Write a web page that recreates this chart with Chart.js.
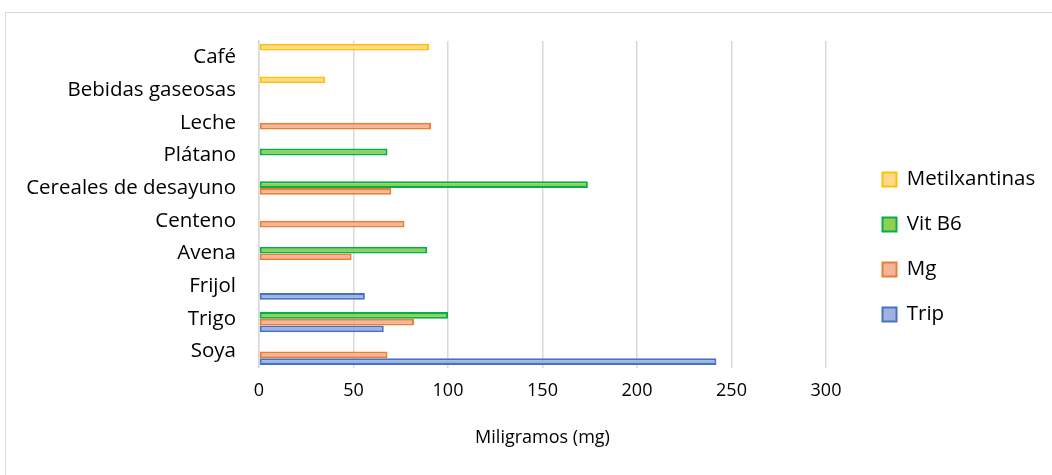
<!DOCTYPE html>
<html>
<head>
<meta charset="utf-8">
<script src="https://cdn.jsdelivr.net/npm/chart.js@4"></script>
<style>
  html, body { margin: 0; padding: 0; background: #fff; overflow: hidden; }
  #frame { position: absolute; left: 5px; top: 12px; width: 1070px; height: 490px; border: 1.5px solid #d9d9d9; box-sizing: border-box; }
  #wrap { position: absolute; left: 0; top: 0; width: 1052px; height: 475px; }
</style>
</head>
<body>
<div id="frame"></div>
<div id="wrap"><canvas id="myChart" width="1052" height="475"></canvas></div>
<script>
const labels = [
    'Café',
    'Bebidas gaseosas',
    'Leche',
    'Plátano',
    'Cereales de desayuno',
    'Centeno',
    'Avena',
    'Frijol',
    'Trigo',
    'Soya',
];

// null = no bar for that food
const metilxantinas = [90, 35, null, null, null, null, null, null, null, null];
const vitB6 = [null, null, null, 68, 174, null, 89, null, 100, null];
const mg = [null, null, 91, null, 70, 77, 49, null, 82, 68];
const trip = [null, null, null, null, null, null, null, 56, 66, 242];

const xTicks = [0, 50, 100, 150, 200, 250, 300];

const font = "'Open Sans', sans-serif";

const ctx = document.querySelector('#myChart').getContext('2d');

const data = {
    labels,
    datasets: [
        {
            label: 'Metilxantinas',
            data: metilxantinas,
            backgroundColor: '#ffd98c',
            borderColor: '#ffc000',
        },
        {
            label: 'Vit B6',
            data: vitB6,
            backgroundColor: '#92d050',
            borderColor: '#00b050',
        },
        {
            label: 'Mg',
            data: mg,
            backgroundColor: '#f4b59a',
            borderColor: '#ed7d31',
        },
        {
            label: 'Trip',
            data: trip,
            backgroundColor: '#a0b2e0',
            borderColor: '#4472c4',
        },
    ],
};

// legend sits further right than chart.js puts it, and the plot must stop at 300
const legendPlace = {
    id: 'legendPlace',
    afterInit(chart) {
        const legend = chart.legend;
        const fit = legend.fit;
        legend.fit = function () {
            fit.call(this);
            this.width = 214;
        };
    },
    afterLayout(chart) {
        chart.legend.left += 32;
        chart.legend.right += 32;
    },
};

const config = {
    type: 'bar',
    data: data,
    options: {
        indexAxis: 'y',
        responsive: false,
        animation: false,
        datasets: {
            bar: {
                borderWidth: 2,
                borderSkipped: false,
                categoryPercentage: 0.83,
                barPercentage: 1,
            },
        },
        layout: {
            padding: { top: 41, left: 10, right: 12, bottom: 22 },
        },
        scales: {
            x: {
                min: 0,
                max: 300,
                afterBuildTicks: (axis) => {
                    axis.ticks = xTicks.map(v => ({ value: v }));
                },
                grid: { color: '#d9d9d9', lineWidth: 1.5, drawTicks: false },
                border: { display: false },
                ticks: { color: '#000', font: { family: font, size: 18 }, padding: 12 },
                title: {
                    display: true,
                    text: 'Miligramos (mg)',
                    color: '#000',
                    font: { family: font, size: 18 },
                    padding: { top: 14, bottom: 4 },
                },
            },
            y: {
                grid: { display: false },
                border: { display: true, color: '#d9d9d9', width: 1.5 },
                ticks: { color: '#000', font: { family: font, size: 20.5 }, padding: 15, autoSkip: false },
                afterFit: (axis) => {
                    axis.width = 249;
                },
            },
        },
        plugins: {
            legend: {
                position: 'right',
                align: 'center',
                labels: {
                    color: '#000',
                    font: { family: font, size: 20.5 },
                    boxWidth: 14,
                    boxHeight: 14,
                    padding: 24.5,
                },
            },
            tooltip: { enabled: false },
        },
    },
    plugins: [legendPlace],
};

const myChart = new Chart(ctx, config);
</script>
</body>
</html>
